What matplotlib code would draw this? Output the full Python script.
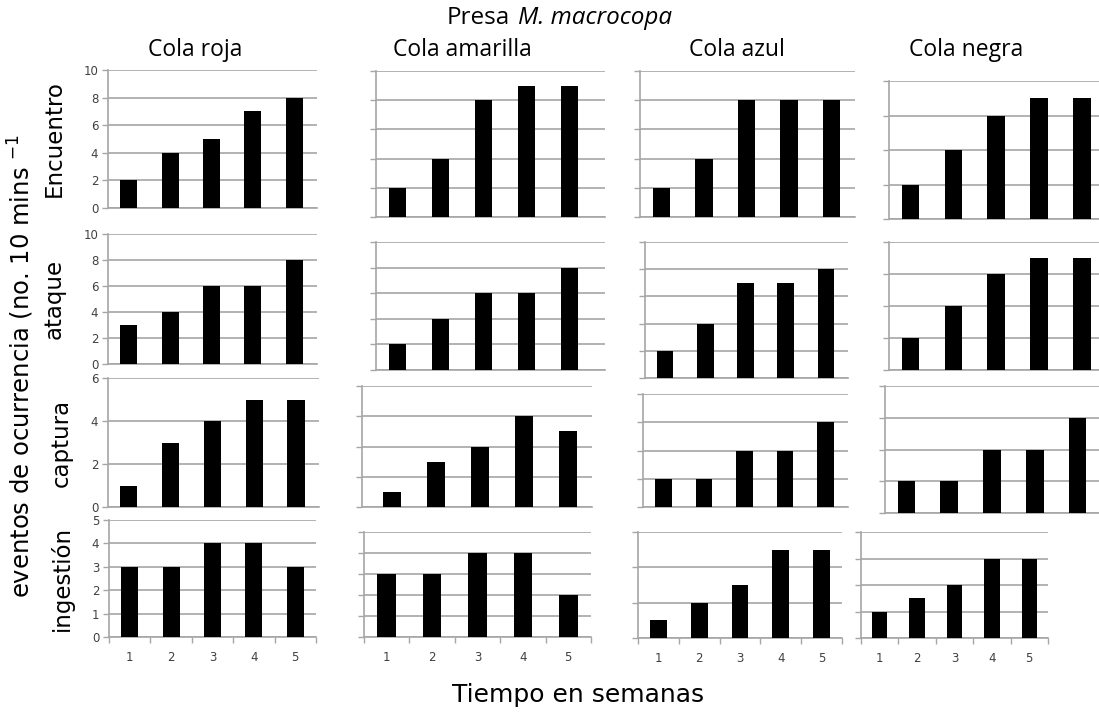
import matplotlib.pyplot as plt
from matplotlib.ticker import MultipleLocator, FixedLocator

# data (events per 10 min, weeks 1-5)
weeks = [1, 2, 3, 4, 5]
columns = ["Cola roja", "Cola amarilla", "Cola azul", "Cola negra"]
rows = ["Encuentro", "ataque", "captura", "ingestión"]

encuentro = [[2, 4, 5, 7, 8], [2, 4, 8, 9, 9], [2, 4, 8, 8, 8], [2, 4, 6, 7, 7]]
ataque = [[3, 4, 6, 6, 8], [2, 4, 6, 6, 8], [2, 4, 7, 7, 8], [2, 4, 6, 7, 7]]
captura = [[1, 3, 4, 5, 5], [1, 3, 4, 6, 5], [1, 1, 2, 2, 3], [1, 1, 2, 2, 3]]
ingestion = [[3, 3, 4, 4, 3], [3, 3, 4, 4, 2], [1, 2, 3, 5, 5], [2, 3, 4, 6, 6]]
series = [encuentro, ataque, captura, ingestion]

# y axis max and step for every panel
ymax = [[10, 10, 10, 8], [10, 10, 10, 8], [6, 8, 4, 4], [5, 5, 6, 8]]
ystep = [[2, 2, 2, 2], [2, 2, 2, 2], [2, 2, 1, 1], [1, 1, 2, 2]]

W, H = 1099, 717
# panel boxes in pixels: left, top, right, bottom
boxes = [
    [(108, 70, 317, 208), (376, 71, 605, 217), (640, 71, 855, 217), (889, 81, 1099, 219)],
    [(108, 234, 317, 364), (376, 242, 605, 370), (645, 242, 848, 378), (889, 242, 1099, 370)],
    [(108, 378, 319, 507), (362, 386, 592, 507), (643, 394, 848, 507), (885, 386, 1099, 513)],
    [(109, 520, 316, 637), (364, 532, 591, 637), (638, 532, 842, 638), (861, 532, 1048, 638)],
]
xmin = [[0.5, 0.5, 0.5, 0.5], [0.5, 0.5, 0.5, 0.5],
        [0.5, 0.32, 0.5, 0.5], [0.5, 0.5, 0.5, 0.5]]
xmax = [[5.55, 5.83, 5.55, 5.4], [5.55, 5.83, 5.55, 5.4],
        [5.55, 5.55, 5.55, 5.5], [5.5, 5.5, 5.5, 5.5]]
title_x = [195, 462, 737, 966]

grid_c = "#a6a6a6"
fig = plt.figure(figsize=(W / 100, H / 100), dpi=100)

for r in range(4):
    for c in range(4):
        l, t, rr, b = boxes[r][c]
        ax = fig.add_axes([l / W, 1 - b / H, (rr - l) / W, (b - t) / H])
        ax.bar(weeks, series[r][c], width=0.41, color="black", zorder=3)
        ax.set_xlim(xmin[r][c], xmax[r][c])
        ax.set_ylim(0, ymax[r][c])
        ax.yaxis.set_major_locator(MultipleLocator(ystep[r][c]))
        ax.grid(axis="y", color=grid_c, linewidth=1.2, zorder=0)
        ax.set_axisbelow(True)
        for s in ["top", "right"]:
            ax.spines[s].set_visible(False)
        ax.spines["left"].set_color(grid_c)
        ax.spines["bottom"].set_color(grid_c)
        ax.spines["left"].set_linewidth(1.2)
        ax.spines["bottom"].set_linewidth(1.2)
        ax.tick_params(axis="y", length=4, color=grid_c, width=1.0,
                       labelsize=8.5, labelcolor="#404040", pad=3)
        if c > 0:
            ax.tick_params(axis="y", labelleft=False)
        if r == 3:
            ax.set_xticks(weeks)
            ax.xaxis.set_minor_locator(FixedLocator([0.5, 1.5, 2.5, 3.5, 4.5, 5.5]))
            ax.tick_params(axis="x", which="major", length=0, labelsize=8.5,
                           labelcolor="#404040", pad=10)
            ax.tick_params(axis="x", which="minor", length=4, color=grid_c, width=1.0)
        else:
            ax.set_xticks([])
        if c == 0:
            ax.set_ylabel(rows[r], fontsize=16.5, labelpad=13)

for c in range(4):
    fig.text(title_x[c] / W, 1 - 50 / H, columns[c], ha="center", va="center",
             fontsize=16.5, family="Open Sans")

# main title: plain "Presa" + italic species name
fig.text(510 / W, 1 - 18 / H, "Presa", ha="right", va="center",
         fontsize=17.5, family="Open Sans")
fig.text(518 / W, 1 - 18 / H, "M. macrocopa", ha="left", va="center",
         fontsize=17.5, family="Open Sans", style="italic")
fig.text(21 / W, 1 - 366 / H, "eventos de ocurrencia (no. 10 mins $^{-1}$", rotation=90,
         ha="center", va="center", fontsize=17.5)
fig.text(578 / W, 1 - 695 / H, "Tiempo en semanas", ha="center", va="center", fontsize=18)

fig.savefig("out.png", dpi=100, facecolor="white")
